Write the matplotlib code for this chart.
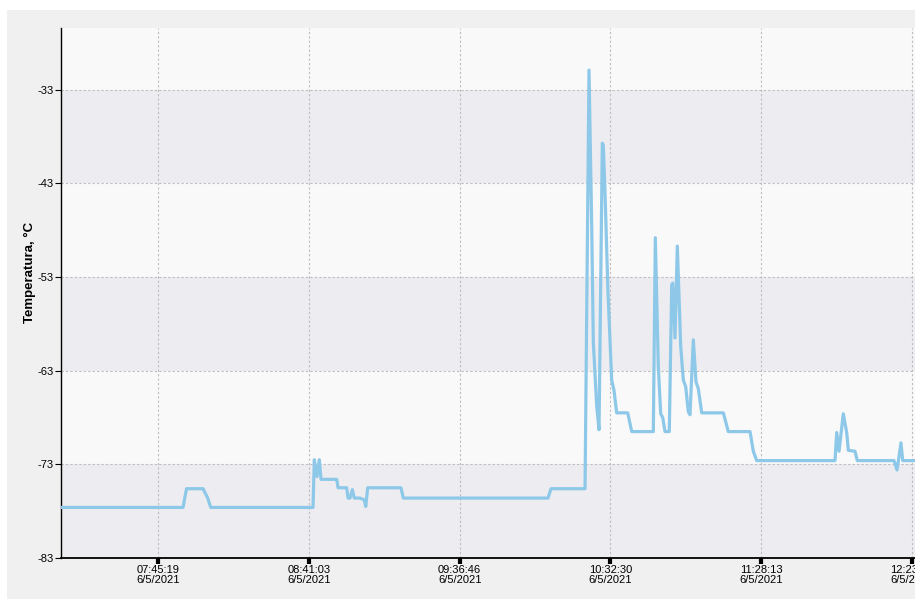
import numpy as np
import pandas as pd
import matplotlib
matplotlib.use("Agg")
import matplotlib.pyplot as plt
from matplotlib.patches import Rectangle

# Logger readings, 6/5/2021
date = "2021-06-05"
times = [
    "07:09:28", "07:54:33", "07:55:51", "08:01:57", "08:03:41", "08:04:47",
    "08:07:29", "08:08:00", "08:08:36",
    "08:42:35", "08:43:04", "08:44:04", "08:44:55", "08:45:33", "08:51:21",
    "08:51:50", "08:55:02", "08:55:31", "08:56:16", "08:57:07", "08:57:51",
    "08:59:57", "09:01:33", "09:02:04", "09:02:48", "09:15:06", "09:15:57",
    "10:09:25", "10:10:32", "10:23:06", "10:24:34", "10:25:34", "10:26:10",
    "10:27:25", "10:28:16", "10:29:29", "10:29:51", "10:30:29", "10:31:35",
    "10:32:57", "10:33:48", "10:34:48", "10:38:52", "10:40:21", "10:48:20",
    "10:49:04", "10:50:11", "10:51:04", "10:51:48", "10:52:39", "10:54:14",
    "10:55:08", "10:55:30", "10:56:21", "10:57:12", "10:58:27", "10:59:25",
    "11:00:18", "11:01:16", "11:01:53", "11:03:07", "11:04:06", "11:04:57",
    "11:06:13", "11:14:12", "11:16:02", "11:24:04", "11:25:17", "11:26:32",
    "11:55:28", "11:56:06", "11:56:57", "11:58:32", "11:59:47", "12:00:23",
    "12:02:51", "12:03:42", "12:17:16", "12:18:23", "12:19:51", "12:20:29",
    "12:30:34",
]
temps = [
    -77.6, -77.6, -75.6, -75.6, -76.6, -77.6,
    -77.6, None, -77.6,
    -77.6, -72.5, -74.3, -72.5, -74.6, -74.6,
    -75.5, -75.5, -76.6, -76.6, -75.7, -76.6,
    -76.6, -76.8, -77.5, -75.5, -75.5, -76.6,
    -76.6, -75.6, -75.6, -30.9, -47.6, -60.0,
    -66.8, -69.3, -38.7, -38.9, -44.0, -54.7,
    -64.0, -65.1, -67.5, -67.5, -69.5, -69.5,
    -48.8, -62.6, -67.6, -68.0, -69.5, -69.5,
    -53.8, -53.65, -59.5, -49.7, -60.4, -64.0,
    -64.7, -67.4, -67.7, -59.7, -64.2, -64.9,
    -67.5, -67.5, -69.5, -69.5, -71.6, -72.6,
    -72.6, -69.6, -71.6, -67.6, -69.6, -71.5,
    -71.6, -72.6, -72.6, -73.6, -70.7, -72.6,
    -72.6,
]
tick_times = ["07:45:19", "08:41:03", "09:36:46", "10:32:30", "11:28:13", "12:23:56"]
tick_date = "6/5/2021"
y_ticks = [-83, -73, -63, -53, -43, -33]
y_top = -26.4
y_label = "Temperatura, °C"

font = ["Liberation Sans Narrow", "Liberation Sans", "DejaVu Sans"]

W, H = 915, 599
fig = plt.figure(figsize=(W / 100, H / 100), dpi=100, facecolor="white")
fig.patches.append(Rectangle((7 / W, 0), 1, 1 - 10 / H, transform=fig.transFigure,
                             facecolor="#f0f0f0", edgecolor="none", zorder=-5))

x = pd.to_datetime([f"{date} {t}" for t in times])
y = np.array([np.nan if v is None else v for v in temps], dtype=float)
xt = pd.to_datetime([f"{date} {t}" for t in tick_times])

left, right = 61 / W, 930 / W
bottom, top = 1 - 558 / H, 1 - 28 / H
ax = fig.add_axes([left, bottom, right - left, top - bottom])
ax.set_facecolor("#f9f9f9")

# Alternating bands between y gridlines
for i in range(0, len(y_ticks) - 1, 2):
    ax.axhspan(y_ticks[i], y_ticks[i + 1], facecolor="#ededf1", edgecolor="none", zorder=0)

ax.plot(x, y, color="#8dc8e9", lw=2.3, solid_joinstyle="round", zorder=3)

ax.set_xlim(x[0], x[-1])
ax.set_ylim(y_ticks[0], y_top)

ax.set_yticks(y_ticks)
ax.set_yticklabels([str(v) for v in y_ticks], family=font, fontsize=8)
ax.set_xticks(xt)
ax.set_xticklabels([f"{t}\n{tick_date}" for t in tick_times], family=font,
                   fontsize=8, linespacing=1.05)

ax.grid(True, color="#bdbdbd", linestyle=(0, (2, 2)), linewidth=0.8, zorder=1)
ax.set_axisbelow(True)

for s in ("top", "right"):
    ax.spines[s].set_visible(False)
ax.spines["left"].set_linewidth(1.0)
ax.spines["bottom"].set_linewidth(1.3)
ax.tick_params(axis="x", direction="out", length=4, width=3, pad=1, colors="black")
ax.tick_params(axis="y", direction="out", length=4, width=0.8, pad=1, colors="black")

fig.text(30 / W, 1 - 272 / H, y_label, rotation=90, ha="center", va="center",
         fontsize=9.5, fontweight="bold", family=["Liberation Sans", "DejaVu Sans"])

fig.savefig("out.png", dpi=100, facecolor=fig.get_facecolor())
